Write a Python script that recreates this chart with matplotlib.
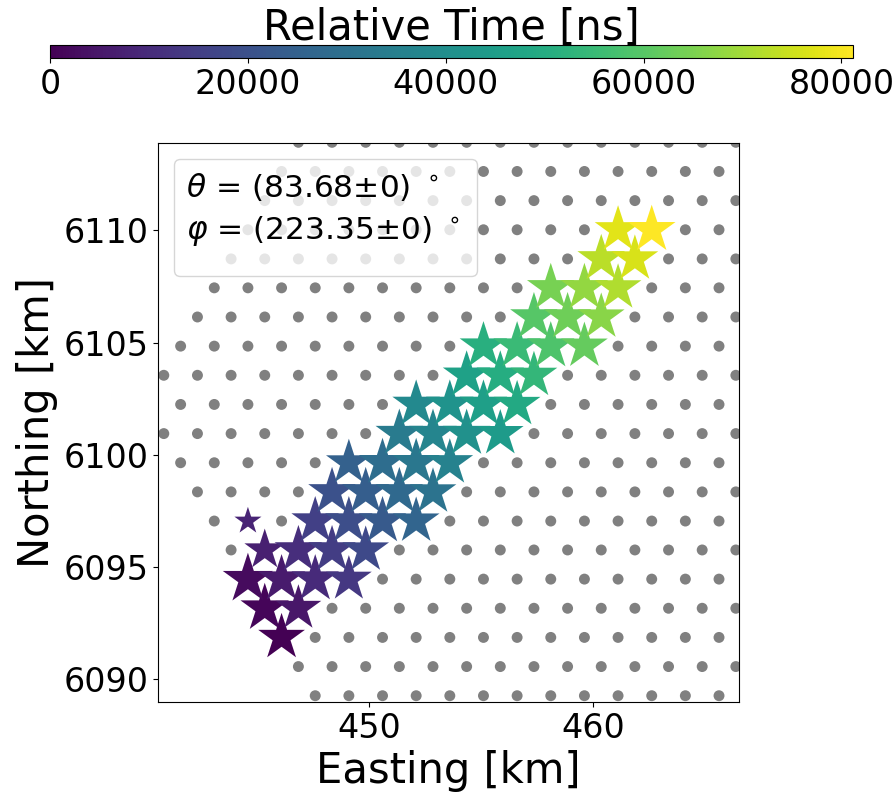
import numpy as np
import matplotlib
matplotlib.use("Agg")
import matplotlib.pyplot as plt

# ---- station grid (hexagonal array), one entry per row ----
grid_row_northing = [6089.25, 6090.55, 6091.85, 6093.15, 6094.45, 6095.75, 6097.04,
                     6098.34, 6099.64, 6100.94, 6102.24, 6103.54, 6104.84, 6106.14,
                     6107.44, 6108.73, 6110.03, 6111.33, 6112.63, 6113.93]
grid_row_first_easting = [447.61, 446.86, 446.11, 445.36, 444.61, 443.86, 443.11,
                          442.36, 441.61, 440.86, 441.61, 440.86, 441.61, 442.36,
                          443.11, 443.86, 444.61, 445.36, 446.11, 446.86]
grid_row_last_easting = [465.61, 466.36, 465.61, 466.36, 465.61, 466.36, 465.61,
                         466.36, 465.61, 466.36, 465.61, 466.36, 465.61, 466.36,
                         465.61, 466.36, 465.61, 466.36, 465.61, 466.36]
grid_spacing_km = 1.5

# ---- triggered stations ----
star_easting = [446.11,
                445.36, 446.86,
                444.61, 446.11, 447.61, 449.11,
                445.36, 446.86, 448.36, 449.86,
                444.61, 447.61, 449.11, 450.61, 452.11,
                448.36, 449.86, 451.36, 452.86,
                449.11, 450.61, 452.11, 453.61,
                451.36, 452.86, 454.36, 455.86,
                452.11, 453.61, 455.11, 456.61,
                454.36, 455.86, 457.36,
                455.11, 456.61, 458.11, 459.61,
                457.36, 458.86, 460.36,
                458.11, 459.61, 461.11,
                460.36, 461.86,
                461.11, 462.61]
star_northing = [6091.85,
                 6093.15, 6093.15,
                 6094.45, 6094.45, 6094.45, 6094.45,
                 6095.75, 6095.75, 6095.75, 6095.75,
                 6097.04, 6097.04, 6097.04, 6097.04, 6097.04,
                 6098.34, 6098.34, 6098.34, 6098.34,
                 6099.64, 6099.64, 6099.64, 6099.64,
                 6100.94, 6100.94, 6100.94, 6100.94,
                 6102.24, 6102.24, 6102.24, 6102.24,
                 6103.54, 6103.54, 6103.54,
                 6104.84, 6104.84, 6104.84, 6104.84,
                 6106.14, 6106.14, 6106.14,
                 6107.44, 6107.44, 6107.44,
                 6108.73, 6108.73,
                 6110.03, 6110.03]
star_time_ns = [0,
                1150, 4770,
                2300, 5910, 9530, 13150,
                7060, 10680, 14300, 17910,
                8210, 15440, 19060, 22680, 26290,
                20210, 23820, 27440, 31060,
                24970, 28590, 32210, 35820,
                33360, 36970, 40590, 44200,
                38120, 41740, 45350, 48970,
                46500, 50120, 53730,
                51270, 54880, 58500, 62120,
                59650, 63260, 66880,
                64410, 68030, 71650,
                72790, 76410,
                77560, 81175]
star_size = [1250,
             1350, 1200,
             1450, 1300, 1300, 1200,
             950, 1300, 1300, 1250,
             420, 1300, 1300, 1300, 1250,
             1300, 1300, 1300, 1250,
             1200, 1300, 1300, 1250,
             1300, 1300, 1300, 1250,
             1300, 1300, 1300, 1250,
             1300, 1300, 1250,
             1300, 1300, 1300, 1250,
             1300, 1300, 1250,
             1300, 1300, 1250,
             1300, 1250,
             1250, 1300]

theta_text = r"$\theta$ = (83.68±0) $\,^{\circ}$ "
phi_text = r"$\varphi$ = (223.35±0) $\,^{\circ}$ "
cbar_ticks = [0, 20000, 40000, 60000, 80000]
time_min, time_max = 0, 81175
x_ticks = [450, 460]
y_ticks = [6090, 6095, 6100, 6105, 6110]

fig = plt.figure(figsize=(8.94, 7.97), dpi=100)
ax = fig.add_axes([0.1767, 0.1192, 0.6499, 0.7014])
cax = fig.add_axes([0.0559, 0.9270, 0.8982, 0.0165])

# grid stations
gx, gy = [], []
for n, e0, e1 in zip(grid_row_northing, grid_row_first_easting, grid_row_last_easting):
    es = np.arange(e0, e1 + 0.01, grid_spacing_km)
    gx.extend(es)
    gy.extend([n] * len(es))
ax.scatter(gx, gy, s=62, color="#808080", edgecolors="none", zorder=1)

# triggered stations, later times on top
order = np.argsort(star_time_ns)
se = np.array(star_easting)[order]
sn = np.array(star_northing)[order]
st = np.array(star_time_ns)[order]
ss = np.array(star_size)[order]
sc = ax.scatter(se, sn, s=ss, c=st, cmap="viridis", vmin=time_min, vmax=time_max,
                marker="*", edgecolors="none", zorder=2)

ax.set_xlim(440.6, 466.5)
ax.set_ylim(6088.97, 6113.9)
ax.set_xticks(x_ticks)
ax.set_yticks(y_ticks)
ax.tick_params(labelsize=24)
ax.set_xlabel("Easting [km]", fontsize=30)
ax.set_ylabel("Northing [km]", fontsize=30)

leg = ax.legend(handles=[], labels=[], title=theta_text + "\n" + phi_text,
                title_fontsize=22.5, fontsize=22.5, loc="upper left",
                alignment="left", framealpha=0.8)
leg.get_title().set_linespacing(1.44)
leg.set_zorder(5)

cb = fig.colorbar(sc, cax=cax, orientation="horizontal", ticks=cbar_ticks)
cb.ax.tick_params(labelsize=24)
cb.ax.xaxis.set_label_position("top")
cb.set_label("Relative Time [ns]", fontsize=30)

fig.savefig("out.png", dpi=100)
